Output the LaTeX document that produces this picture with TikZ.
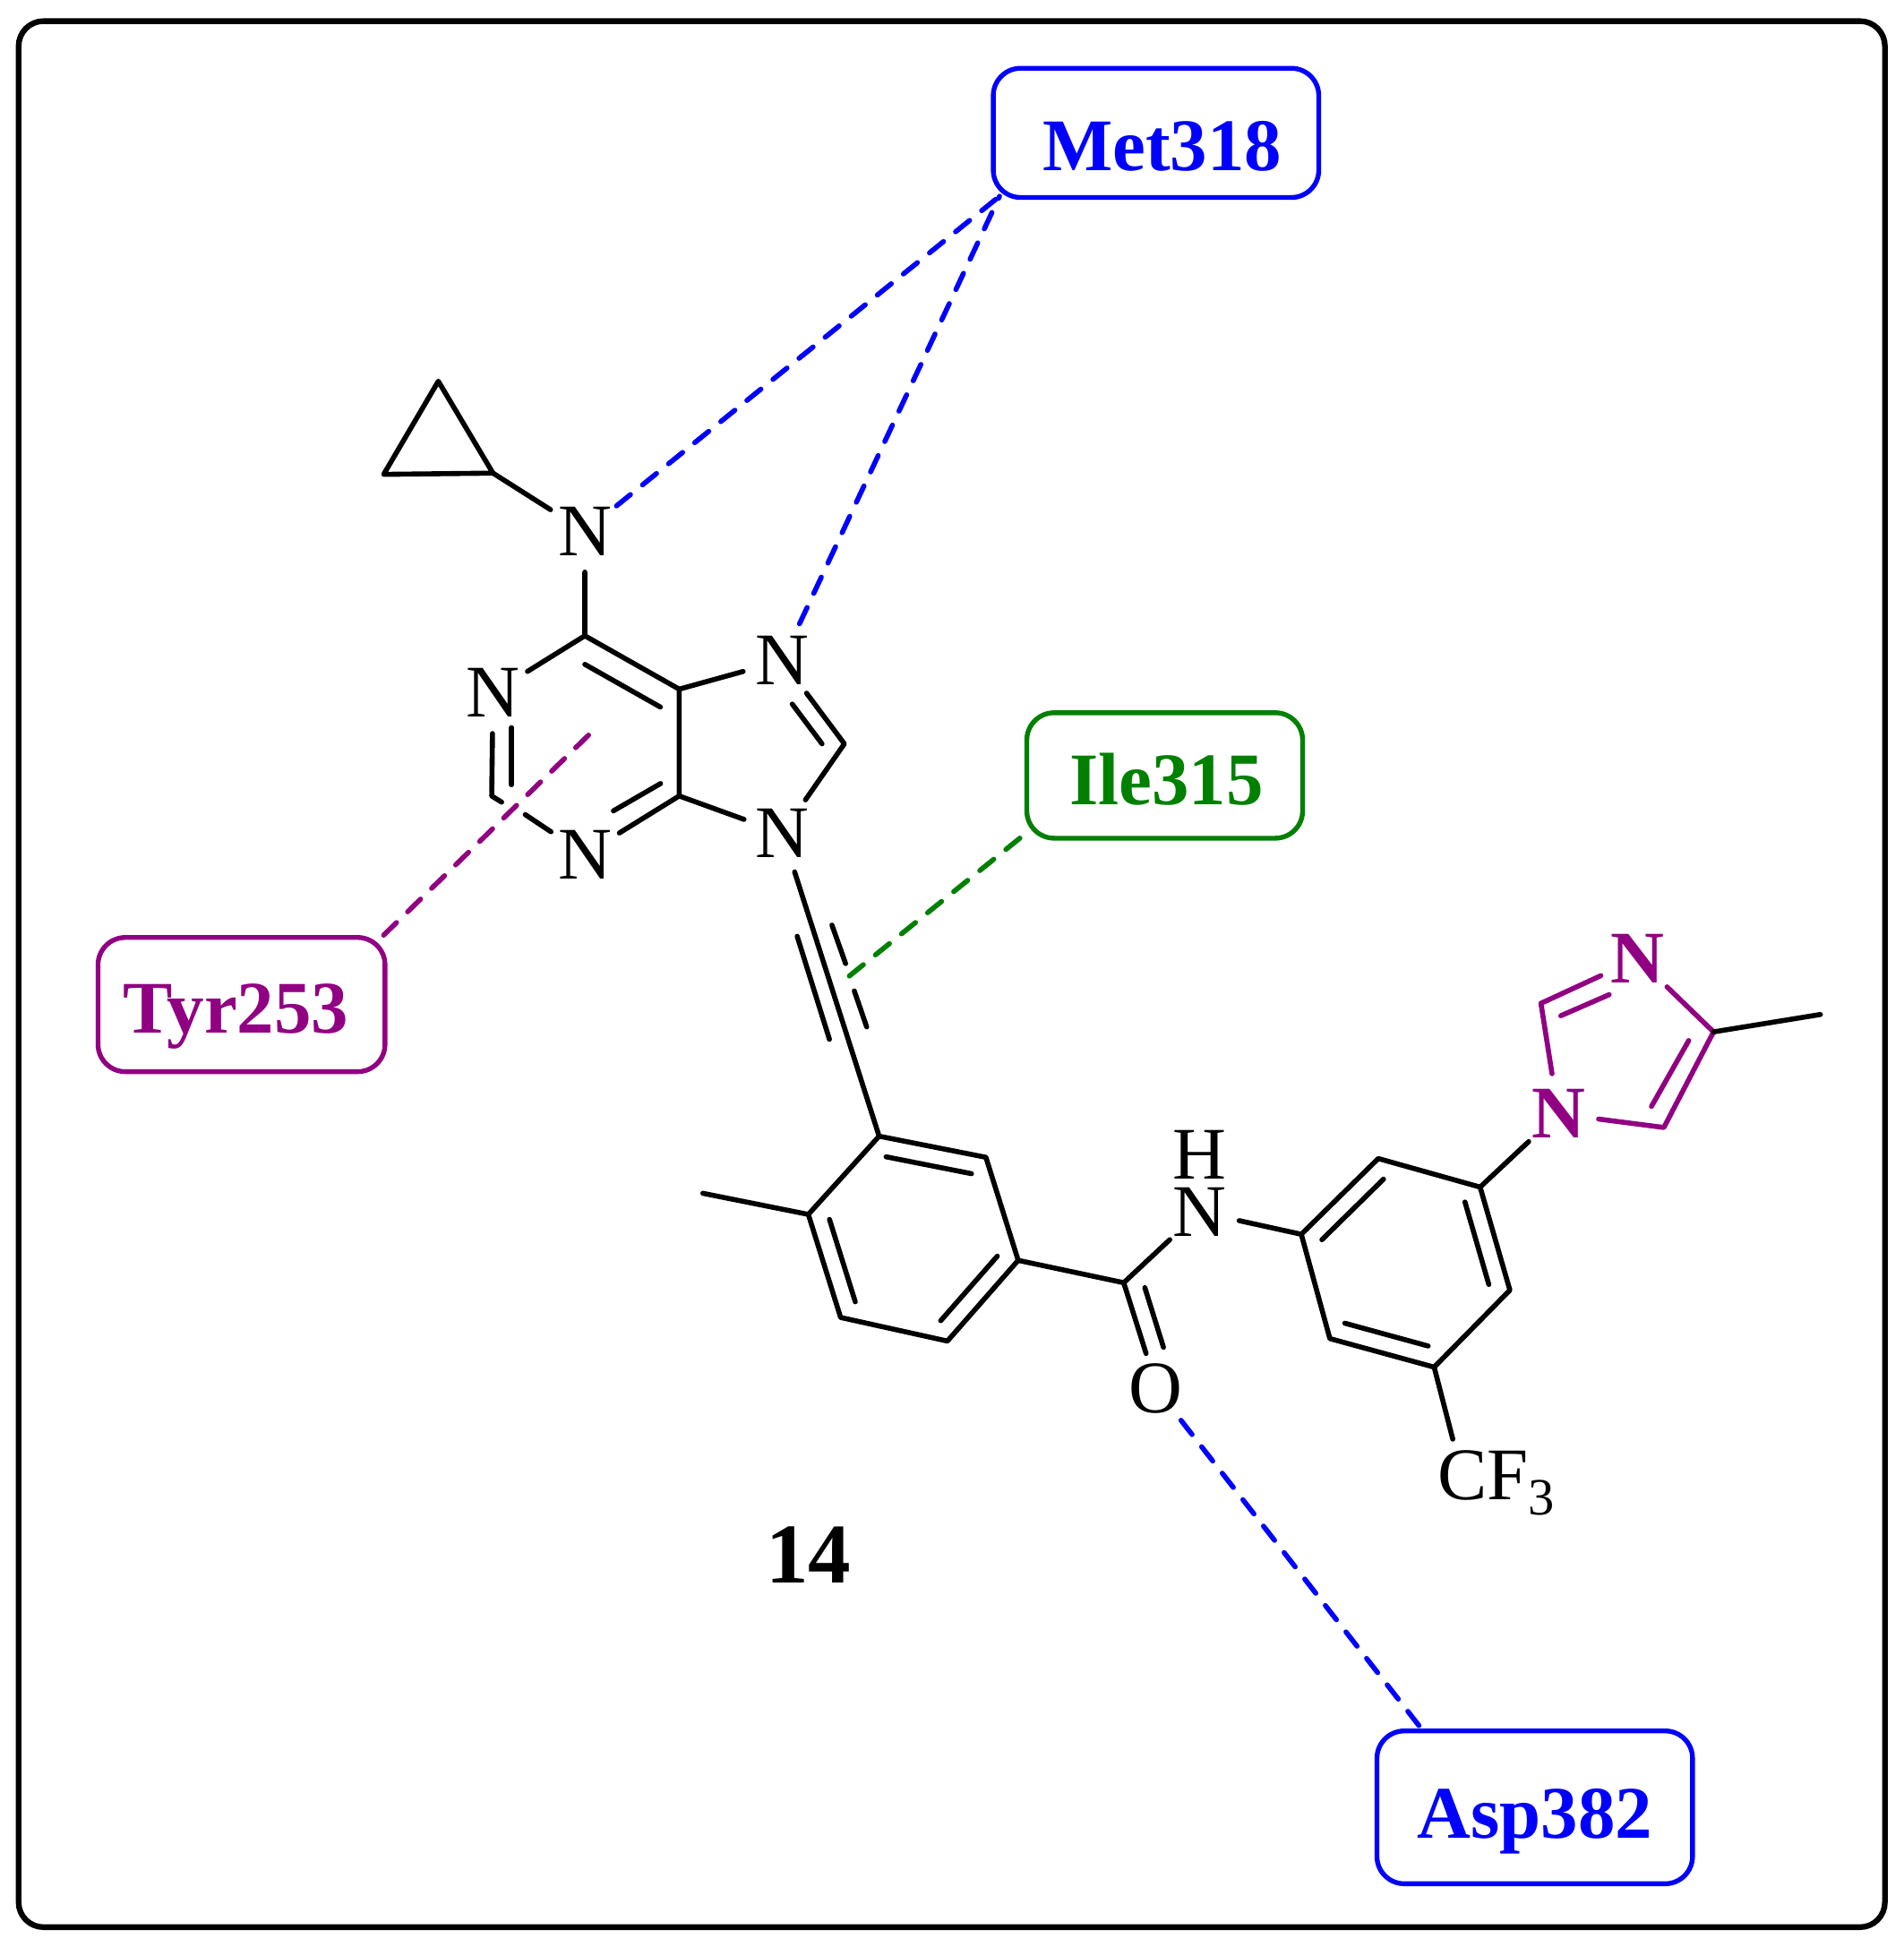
\documentclass[tikz,border=0pt]{standalone}
\usepackage{fontspec}
\setmainfont{Liberation Serif}
\usetikzlibrary{calc}
\definecolor{mblue}{RGB}{0,0,255}
\definecolor{mgreen}{RGB}{0,128,0}
\definecolor{mpurple}{RGB}{145,0,130}
\tikzset{
  atom/.style={circle,inner sep=0pt,minimum size=0.64cm,font=\fontsize{17}{18}\selectfont},
  bond/.style={line width=1.15pt,line cap=round,line join=round},
  hbond/.style={line width=1.15pt,line cap=round,dash pattern=on 0.145cm off 0.125cm},
  resbox/.style={draw=#1,text=#1,line width=1.1pt,rounded corners=0.22cm,inner sep=0pt,font=\fontsize{17}{18}\selectfont\bfseries}
}
\newcommand \myinbond[3]
{
\draw[bond] ($(#1)!0.2!(#3)$)--($(#2)!0.2!(#3)$);
}
\begin{document}
\begin{tikzpicture}[x=0.01cm,y=-0.01cm]
\useasboundingbox (0,0) rectangle (1533,1568);
\draw[line width=1.3pt,rounded corners=0.2cm] (15,17) rectangle (1518,1552);
% residue boxes
\node[resbox=mblue,minimum width=2.62cm,minimum height=1.04cm,text height=0.61cm,text depth=0cm] (Met318) at (931,107) {\hspace*{0.1cm}Met318};
\node[resbox=mgreen,minimum width=2.22cm,minimum height=1.01cm,text height=0.47cm,text depth=0cm] (Ile315) at (938,624.5) {\hspace*{0.03cm}Ile315};
\node[resbox=mpurple,minimum width=2.31cm,minimum height=1.08cm,text height=0.46cm,text depth=0cm] (Tyr253) at (194.5,809) {Tyr253\hspace*{0.09cm}};
\node[resbox=mblue,minimum width=2.54cm,minimum height=1.23cm,text height=0.50cm,text depth=0cm] (Asp382) at (1236,1455.5) {Asp382};
% atoms
\node[atom] (Nam) at (471,428) {N};
\node[atom] (N1) at (397,558) {N};
\node[atom] (N3) at (471,688) {N};
\node[atom] (N7) at (630,532) {N};
\node[atom] (N9) at (630,671) {N};
\node[atom] (NH) at (966,976) {N};
\node[inner sep=0pt,font=\fontsize{17}{18}\selectfont] (HN) at (966,930) {H};
\node[atom] (O) at (931,1118) {O};
\node[atom,text=mpurple,font=\fontsize{17}{18}\selectfont\bfseries] (Na) at (1255,897) {N};
\node[atom,text=mpurple,font=\fontsize{17}{18}\selectfont\bfseries] (Nb) at (1319,772) {N};
\node[anchor=base west,inner sep=0pt,font=\fontsize{17}{18}\selectfont] (CF) at (1157,1208) {CF\raisebox{-0.2em}{\fontsize{12}{14}\selectfont 3}};
\node[font=\fontsize{19.5}{22}\selectfont\bfseries] (cmpd) at (651,1252) {14};
% purine
\coordinate (C6) at (471,512);
\coordinate (C5) at (547,555);
\coordinate (C4) at (547,641);
\coordinate (C2) at (396,641);
\coordinate (C8) at (680,599);
\coordinate (R6) at (471,627);
\coordinate (gapa) at (404,646);
\coordinate (gapb) at (423,656);
\coordinate (n1in) at (412,586);
\coordinate (c2in) at (412,632);
\coordinate (n3in) at (494,653);
\coordinate (c4in) at (532,631);
\coordinate (n7in) at (638,567);
\coordinate (c8in) at (662,599);
\draw[bond] (Nam)--(C6)--(C5)--(C4);
\draw[bond] (C6)--(N1)--(C2)--(gapa);
\draw[bond] (gapb)--(N3)--(C4)--(N9)--(C8)--(N7)--(C5);
\draw[bond] (n1in)--(c2in);
\draw[bond] (n3in)--(c4in);
\draw[bond] (n7in)--(c8in);
\myinbond{C6}{C5}{R6}
% cyclopropyl
\coordinate (Pa) at (353,307);
\coordinate (Pb) at (309,382);
\coordinate (Pc) at (397,381);
\draw[bond] (Pa)--(Pb)--(Pc)--cycle;
\draw[bond] (Pc)--(Nam);
% alkyne
\coordinate (Ba) at (708,915);
\coordinate (ala) at (642,754);
\coordinate (alb) at (668,837);
\coordinate (ara) at (670,745);
\coordinate (arb) at (681,776);
\coordinate (arc) at (688,798);
\coordinate (ard) at (698,827);
\draw[bond] (N9)--(Ba);
\draw[bond] (ala)--(alb);
\draw[bond] (ara)--(arb) (arc)--(ard);
% toluene ring
\coordinate (Bb) at (794,932);
\coordinate (Bc) at (820,1015);
\coordinate (Bd) at (763,1080);
\coordinate (Be) at (677,1061);
\coordinate (Bf) at (651,978);
\coordinate (Bm) at (566,961);
\coordinate (Rb) at (736,998);
\draw[bond] (Ba)--(Bb)--(Bc)--(Bd)--(Be)--(Bf)--cycle;
\draw[bond] (Bf)--(Bm);
\myinbond{Ba}{Bb}{Rb}
\myinbond{Bc}{Bd}{Rb}
\myinbond{Be}{Bf}{Rb}
% amide
\coordinate (Am) at (905,1033);
\coordinate (oa) at (923,1090);
\coordinate (ob) at (922,1037);
\coordinate (oc) at (937,1085);
\draw[bond] (Bc)--(Am)--(NH);
\draw[bond] (Am)--(oa);
\draw[bond] (ob)--(oc);
% second ring
\coordinate (Da) at (1048,994);
\coordinate (Db) at (1110,933);
\coordinate (Dc) at (1192,956);
\coordinate (Dd) at (1216,1039);
\coordinate (De) at (1155,1101);
\coordinate (Df) at (1071,1078);
\coordinate (Rd) at (1131,1016);
\coordinate (cfin) at (1170,1159);
\draw[bond] (NH)--(Da);
\draw[bond] (Da)--(Db)--(Dc)--(Dd)--(De)--(Df)--cycle;
\draw[bond] (De)--(cfin);
\draw[bond] (Dc)--(Na);
\myinbond{Da}{Db}{Rd}
\myinbond{Dc}{Dd}{Rd}
\myinbond{De}{Df}{Rd}
% imidazole
\coordinate (Ia) at (1241,808);
\coordinate (Ib) at (1380,831);
\coordinate (Ic) at (1340,908);
\coordinate (Im) at (1466,817);
\coordinate (iaa) at (1257,818);
\coordinate (iab) at (1296,801);
\coordinate (iba) at (1360,838);
\coordinate (ibb) at (1330,891);
\draw[bond,mpurple] (Na)--(Ia)--(Nb)--(Ib)--(Ic)--(Na);
\draw[bond,mpurple] (iaa)--(iab);
\draw[bond,mpurple] (iba)--(ibb);
\draw[bond] (Ib)--(Im);
% contacts
\coordinate (metfoot) at (805,158);
\coordinate (ilefoot) at (830,668);
\coordinate (ilebond) at (684,786);
\coordinate (tyrring) at (474,592);
\coordinate (tyrfoot) at (305,757);
\coordinate (aspfoot) at (1143,1390);
\draw[hbond,mblue] (Nam)--(metfoot);
\draw[hbond,mblue] (N7)--(metfoot);
\draw[hbond,mblue] (O)--(aspfoot);
\draw[hbond,mgreen] (ilebond)--(ilefoot);
\draw[hbond,mpurple] (tyrring)--(tyrfoot);
\end{tikzpicture}
\end{document}
